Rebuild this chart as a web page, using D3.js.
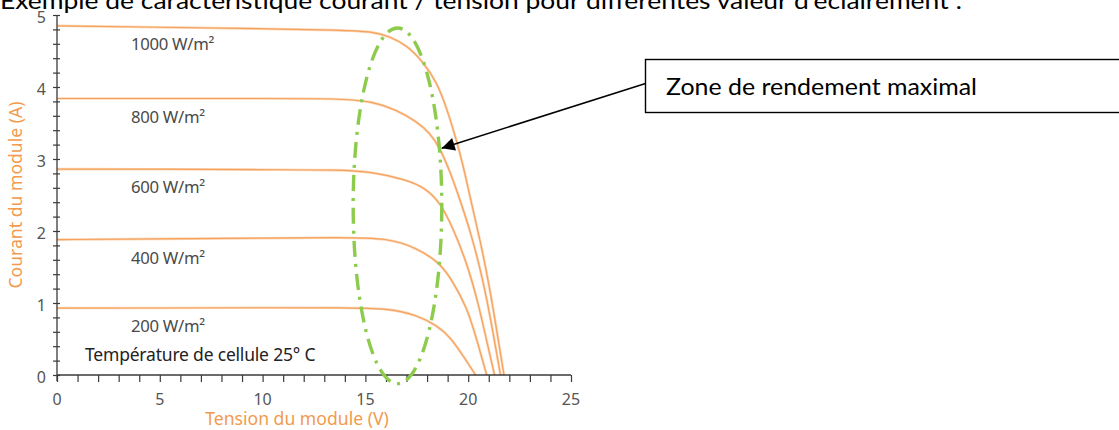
<!DOCTYPE html>
<html><head><meta charset="utf-8">
<script src="https://cdn.jsdelivr.net/npm/d3@7"></script>
<style>
html,body{margin:0;padding:0;background:#fff;}
svg{display:block;}
</style></head>
<body>
<svg id="chart" width="1119" height="430"></svg>
<script>
// ---------- data ----------
const titleText = "Exemple de caractéristique courant / tension pour différentes valeur d'éclairement :";
const irradianceLabels = ["1000 W/m²", "800 W/m²", "600 W/m²", "400 W/m²", "200 W/m²"];
const v1000 = [0, 5, 10, 13.76, 15.37, 16.2, 17.01, 17.8, 18.47, 18.95, 19.36, 19.75, 20.09, 20.60, 21.04, 21.40, 21.74];
const i1000 = [4.85, 4.83, 4.81, 4.79, 4.77, 4.70, 4.58, 4.35, 4.07, 3.71, 3.33, 2.92, 2.47, 1.85, 1.22, 0.60, 0];
const v800 = [0, 5, 10, 13.76, 15.37, 16.52, 17.5, 18.14, 18.63, 19.12, 19.52, 20.14, 20.72, 21.13, 21.57];
const i800 = [3.84, 3.84, 3.84, 3.84, 3.80, 3.68, 3.52, 3.36, 3.15, 2.82, 2.5, 1.97, 1.32, 0.72, 0];
const v600 = [0, 5, 10, 13.76, 15.37, 17.01, 17.9, 18.63, 19.26, 19.93, 20.48, 20.91, 21.28];
const i600 = [2.86, 2.86, 2.85, 2.85, 2.82, 2.71, 2.60, 2.40, 2.04, 1.56, 1.01, 0.46, 0];
const v400 = [0, 5, 10, 13.76, 16.2, 17.5, 18.63, 19.27, 19.93, 20.33, 20.9];
const i400 = [1.88, 1.89, 1.90, 1.91, 1.90, 1.76, 1.56, 1.29, 0.94, 0.58, 0];
const v200 = [0, 5, 10, 13.76, 16.2, 17.5, 18.47, 19.12, 19.70, 20.36];
const i200 = [0.93, 0.93, 0.935, 0.935, 0.926, 0.83, 0.69, 0.53, 0.29, 0];
const xTicks = [0, 5, 10, 15, 20, 25];
const yTicks = [0, 1, 2, 3, 4, 5];
const xTitle = "Tension du module (V)";
const yTitle = "Courant du module (A)";
const tempNote = "Température de cellule 25° C";
const zoneText = "Zone de rendement maximal";
// maximum-power zone (ellipse) in data units: centre V, centre A, half-width V, half-height A
const zoneEllipse = [16.56, 2.35, 2.155, 2.47];
// arrow tip in data units (V, A)
const arrowTip = [18.71, 3.15];

// ---------- layout ----------
const svg = d3.select("#chart");
const x = d3.scaleLinear().domain([0, 25]).range([57, 571]);
const y = d3.scaleLinear().domain([0, 5]).range([375, 15]);
const ORANGE = "#F5A25D";
const AXISCOL = "#3a3a3a";
const chartFont = "'Noto Sans', sans-serif";
const docFont = "Lato, 'Open Sans', sans-serif";

// title (cut at top)
svg.append("text").attr("x", 0).attr("y", 9)
  .attr("font-family", docFont).attr("font-size", 24).attr("fill", "#000")
  .attr("textLength", 962).attr("lengthAdjust", "spacingAndGlyphs")
  .text(titleText);

// curves
const series = [[v1000, i1000], [v800, i800], [v600, i600], [v400, i400], [v200, i200]];
const line = d3.line().x(d => x(d[0])).y(d => y(d[1])).curve(d3.curveBasis);
series.forEach(([vs, is]) => {
  const pts = vs.map((v, k) => [v, is[k]]);
  svg.append("path").attr("d", line(pts)).attr("fill", "none")
    .attr("stroke", "#FBD6B6").attr("stroke-width", 2.6);
  svg.append("path").attr("d", line(pts)).attr("fill", "none")
    .attr("stroke", ORANGE).attr("stroke-width", 1.2);
});

// curve labels
series.forEach(([vs, is], k) => {
  svg.append("text").attr("x", 131).attr("y", y(is[0]) + 24)
    .attr("font-family", chartFont).attr("font-size", 16.7).attr("fill", "#4a4a4a")
    .attr("letter-spacing", -0.3)
    .text(irradianceLabels[k]);
});
svg.append("text").attr("x", 85).attr("y", 361)
  .attr("font-family", chartFont).attr("font-size", 17.5).attr("fill", "#222")
  .attr("letter-spacing", -0.2)
  .text(tempNote);

// axes
const yAxis = d3.axisLeft(y).tickValues(d3.range(0, 5.01, 0.2)).tickSize(4).tickFormat("");
const gy = svg.append("g").attr("transform", `translate(${x(0)},0)`).call(yAxis);
gy.select(".domain").attr("stroke", AXISCOL).attr("stroke-width", 1.3).attr("d", `M0,${y(5)}V${y(0) + 6}`);
gy.selectAll(".tick line").attr("x1", 3).attr("x2", -4).attr("stroke", AXISCOL).attr("stroke-width", 1.2);

const xAxis = d3.axisBottom(x).tickValues(d3.range(0, 26, 1)).tickSize(7).tickFormat("");
const gx = svg.append("g").attr("transform", `translate(0,${y(0)})`).call(xAxis);
gx.select(".domain").attr("stroke", AXISCOL).attr("stroke-width", 1.3).attr("d", `M${x(0)},0H${x(25)}`);
gx.selectAll(".tick line").attr("stroke", AXISCOL).attr("stroke-width", 1.2);

// tick labels
svg.selectAll(".xl").data(xTicks).enter().append("text")
  .attr("x", d => x(d)).attr("y", 405).attr("text-anchor", "middle")
  .attr("font-family", chartFont).attr("font-size", 16).attr("fill", "#555")
  .text(d => d);
svg.selectAll(".yl").data(yTicks).enter().append("text")
  .attr("x", 46).attr("y", d => y(d) + 8).attr("text-anchor", "end")
  .attr("font-family", chartFont).attr("font-size", 16).attr("fill", "#555")
  .text(d => d);

// axis titles
svg.append("text").attr("x", 297).attr("y", 425).attr("text-anchor", "middle")
  .attr("font-family", chartFont).attr("font-size", 17.6).attr("fill", "#F39A4E")
  .text(xTitle);
svg.append("text").attr("transform", "translate(22,195) rotate(-90)").attr("text-anchor", "middle")
  .attr("font-family", chartFont).attr("font-size", 17.6).attr("fill", "#F39A4E")
  .text(yTitle);

// ellipse zone
const [ecV, ecA, erV, erA] = zoneEllipse;
svg.append("ellipse")
  .attr("cx", x(ecV)).attr("cy", y(ecA))
  .attr("rx", x(ecV + erV) - x(ecV)).attr("ry", y(ecA) - y(ecA + erA))
  .attr("fill", "none").attr("stroke", "#8DCB4C").attr("stroke-width", 3.4)
  .attr("stroke-dasharray", "16,7,3,7");

// annotation box + arrow
svg.append("defs").append("marker").attr("id", "ah")
  .attr("viewBox", "0 0 10 10").attr("refX", 10).attr("refY", 5)
  .attr("markerWidth", 16).attr("markerHeight", 13).attr("markerUnits", "userSpaceOnUse")
  .attr("orient", "auto")
  .append("path").attr("d", "M0,0L10,5L0,10Z").attr("fill", "#000");
svg.append("rect").attr("x", 645.5).attr("y", 59.5).attr("width", 500).attr("height", 53)
  .attr("fill", "#fff").attr("stroke", "#000").attr("stroke-width", 1.4);
svg.append("text").attr("x", 666).attr("y", 95)
  .attr("font-family", docFont).attr("font-size", 24).attr("fill", "#000")
  .attr("textLength", 311).attr("lengthAdjust", "spacingAndGlyphs")
  .text(zoneText);
svg.append("line").attr("x1", 645.5).attr("y1", 83.5)
  .attr("x2", x(arrowTip[0])).attr("y2", y(arrowTip[1]))
  .attr("stroke", "#000").attr("stroke-width", 1.5)
  .attr("marker-end", "url(#ah)");
</script>
</body></html>
